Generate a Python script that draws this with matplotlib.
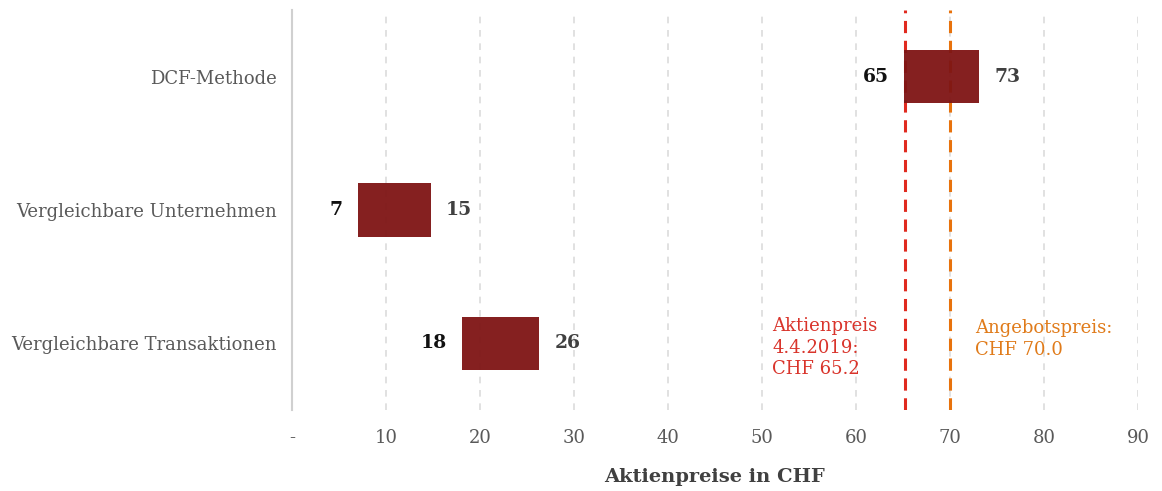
import matplotlib
matplotlib.use("Agg")
import matplotlib.pyplot as plt

categories = ["DCF-Methode", "Vergleichbare Unternehmen", "Vergleichbare Transaktionen"]
low = [65.1, 7.0, 18.1]
high = [73.1, 14.8, 26.3]
low_labels = ["65", "7", "18"]
high_labels = ["73", "15", "26"]
share_price = 65.2
offer_price = 70.0
xticks = [0, 10, 20, 30, 40, 50, 60, 70, 80, 90]
xticklabels = ["-", "10", "20", "30", "40", "50", "60", "70", "80", "90"]

plt.rcParams['font.family'] = ['DejaVu Serif']

fig = plt.figure(figsize=(11.62, 4.91), dpi=100)
ax = fig.add_axes([0.2513, 0.165, 0.728, 0.815])

ypos = list(range(len(categories)))
widths = [h - l for l, h in zip(low, high)]

ax.axvline(share_price, color="#e02a1f", lw=2.2, ls=(0, (4, 2.5)), zorder=2)
ax.axvline(offer_price, color="#e8720c", lw=2.2, ls=(0, (4, 2.5)), zorder=2)
ax.barh(ypos, widths, left=low, height=0.4, color="#7e1414", alpha=0.95, zorder=3)

for y, l, h, ll, hl in zip(ypos, low, high, low_labels, high_labels):
    ax.text(l - 1.6, y, ll, ha="right", va="center", fontsize=13.5,
            fontweight="bold", color="#111111")
    ax.text(h + 1.6, y, hl, ha="left", va="center", fontsize=13.5,
            fontweight="bold", color="#404040")

ax.text(51.1, 1.80, "Aktienpreis\n4.4.2019:\nCHF 65.2", ha="left", va="top",
        fontsize=13, color="#d9342b", linespacing=1.28)
ax.text(72.7, 1.815, "Angebotspreis:\nCHF 70.0", ha="left", va="top",
        fontsize=13, color="#e07b1a", linespacing=1.28)

ax.set_xlim(0, 90)
ax.set_ylim(2.5, -0.5)
ax.set_yticks(ypos)
ax.set_yticklabels(categories, fontsize=13, color="#595959")
ax.set_xticks(xticks)
ax.set_xticklabels(xticklabels, fontsize=13, color="#595959")
ax.tick_params(axis="x", length=0, pad=14)
ax.tick_params(axis="y", length=0, pad=11)
ax.xaxis.grid(True, color="#dcdcdc", ls=(0, (4, 4)), lw=1.2, zorder=0)
ax.set_axisbelow(True)
for s in ["top", "right", "bottom"]:
    ax.spines[s].set_visible(False)
ax.spines["left"].set_color("#d0d0d0")
ax.spines["left"].set_linewidth(1.5)
ax.set_xlabel("Aktienpreise in CHF", fontsize=14, fontweight="bold",
              color="#404040", labelpad=15)

fig.savefig("out.png", dpi=100)
